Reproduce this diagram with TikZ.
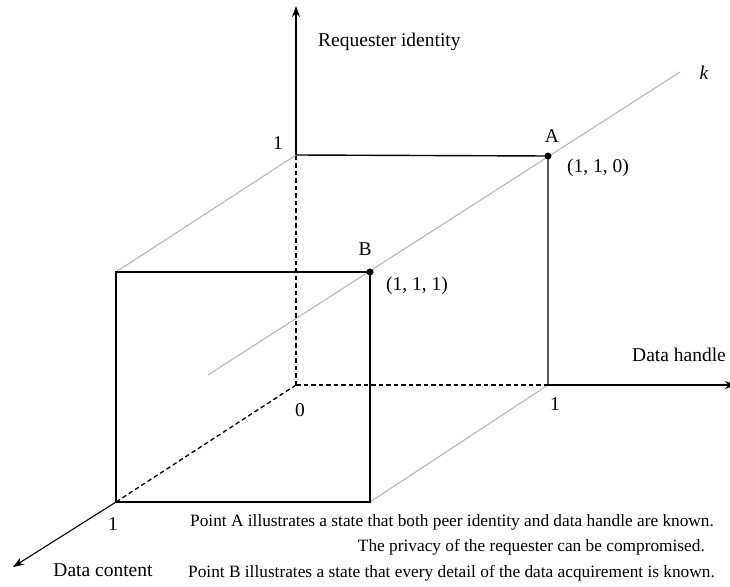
\documentclass[tikz,border=0pt]{standalone}
\usepackage{fontspec}
\setmainfont{Liberation Serif}
\usetikzlibrary{arrows.meta}
\tikzset{
  axisline/.style={line width=1.4pt, black},
  boxline/.style={line width=1.4pt, black},
  hidden/.style={line width=1.3pt, black, dash pattern=on 4.5pt off 3pt},
  guide/.style={line width=1pt, black!30},
  lbl/.style={inner sep=0pt, font=\fontsize{19.5}{21}\selectfont},
  note/.style={inner sep=0pt, font=\fontsize{17.3}{19}\selectfont},
  dotpt/.style={circle, fill=black, inner sep=0pt, minimum size=7pt},
  tip/.style={-{Stealth[length=11pt,width=8pt]}}
}
\begin{document}
\begin{tikzpicture}[x=1pt,y=-1pt]
\useasboundingbox (0,0) rectangle (730,586);
% coordinates
\coordinate (O) at (296,385);
\coordinate (Y1) at (296,155);
\coordinate (Ytop) at (296,6);
\coordinate (X1) at (548,385);
\coordinate (Xend) at (736,385);
\coordinate (Z1) at (116,502);
\coordinate (Zend) at (13,567);
\coordinate (F) at (370,502);
\coordinate (G) at (116,272);
\coordinate (Klow) at (208,375);
\coordinate (Khigh) at (680,72);
% guide lines
\draw[guide] (Klow) -- (Khigh);
\draw[guide] (G) -- (Y1);
\draw[guide] (F) -- (X1);
% hidden axes
\draw[hidden] (O) -- (Y1);
\draw[hidden] (O) -- (X1);
\draw[hidden] (O) -- (Z1);
% visible axes
\draw[axisline,tip] (Y1) -- (Ytop);
\draw[axisline,tip] (X1) -- (Xend);
\draw[line width=1.1pt,tip] (Z1) -- (Zend);
% rear square
\node[dotpt] (A) at (548,156) {};
\draw[boxline] (Y1) -- (A.center) -- (X1);
% front square
\node[dotpt] (B) at (370,272) {};
\draw[boxline] (G) -- (B.center) -- (F) -- (Z1) -- cycle;
% labels
\node[lbl, anchor=west] (ri) at (318,42) {Requester identity};
\node[lbl] (kl) at (704,73) {\textit{k}};
\node[lbl, anchor=west] (dh) at (632,355) {Data handle};
\node[lbl] (dc) at (103,570) {Data content};
\node[lbl] (one1) at (278,143) {1};
\node[lbl] (zero) at (300,410) {0};
\node[lbl] (one2) at (555,404) {1};
\node[lbl] (one3) at (113,524) {1};
\node[lbl] (Al) at (552,136) {A};
\node[lbl] (Ac) at (598,168) {(1, 1, 0)};
\node[lbl] (Bl) at (365,249) {B};
\node[lbl] (Bc) at (417,286) {(1, 1, 1)};
% notes
\node[note, anchor=west] (n1) at (190,522) {Point A illustrates a state that both peer identity and data handle are known.};
\node[note, anchor=east] (n2) at (705,547) {The privacy of the requester can be compromised.};
\node[note, anchor=west] (n3) at (188,573) {Point B illustrates a state that every detail of the data acquirement is known.};
\end{tikzpicture}
\end{document}
